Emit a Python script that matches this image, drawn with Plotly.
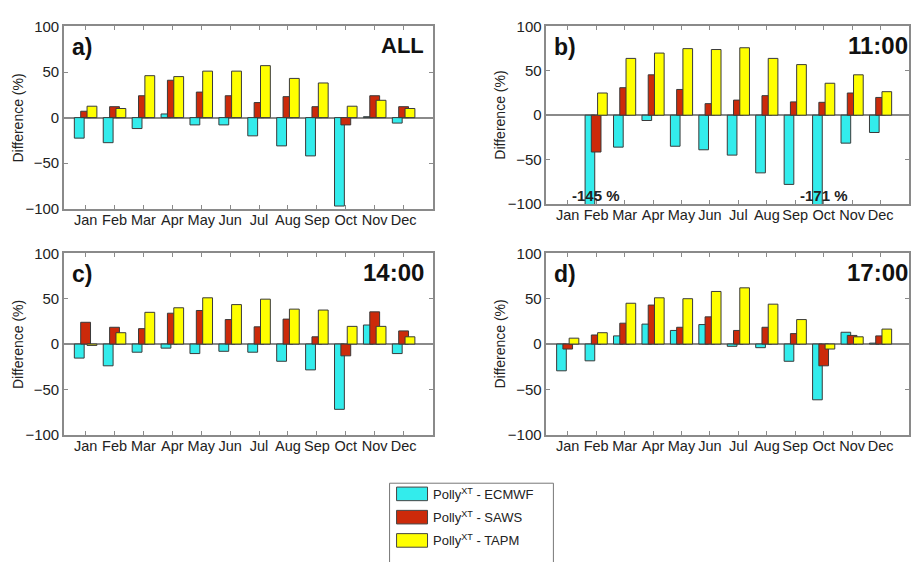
import plotly.graph_objects as go

months = ["Jan", "Feb", "Mar", "Apr", "May", "Jun", "Jul", "Aug", "Sep", "Oct", "Nov", "Dec"]
series_names = ["Polly<sup>XT</sup> - ECMWF", "Polly<sup>XT</sup> - SAWS", "Polly<sup>XT</sup> - TAPM"]
series_colors = ["#33ECEC", "#CC2A0A", "#FFFF00"]

# panel a) ALL
all_ecmwf = [-22.5, -27.5, -12, 4, -8, -8, -20, -31, -42, -97, 1, -6]
all_saws = [7, 12, 24, 41, 28, 24, 16.5, 23, 12, -8, 24, 12]
all_tapm = [12.5, 10, 46, 45, 51, 51, 57, 43, 38, 12.5, 19, 10]

# panel b) 11:00
h11_ecmwf = [None, -145, -36, -6, -35, -39, -45, -65, -78, -171, -31.5, -19.5]
h11_saws = [None, -41.5, 31, 45.5, 29, 13, 17, 22, 15, 14.5, 25, 20]
h11_tapm = [None, 25, 64, 70, 75, 74, 76, 64, 57, 36, 45.5, 26.5]

# panel c) 14:00
h14_ecmwf = [-15.5, -24, -9, -4.5, -10.5, -8, -9, -19, -28.5, -72, 21, -10.5]
h14_saws = [24, 18.5, 17, 34, 37, 27, 19, 27.5, 8, -13, 35.5, 14.5]
h14_tapm = [-1.5, 12.5, 35, 40, 51, 43.5, 49.5, 38.5, 37.5, 19.5, 19.5, 8]

# panel d) 17:00
h17_ecmwf = [-29.5, -18.5, 9, 22, 15, 21.5, -2.5, -4, -19, -61.5, 13, 1]
h17_saws = [-5.5, 10, 23, 43, 18.5, 30, 15, 18.5, 11.5, -24, 9.5, 9]
h17_tapm = [6.5, 12.5, 45, 51, 50, 58, 62, 44, 27, -5.5, 8, 16.5]

panel_letters = ["a)", "b)", "c)", "d)"]
panel_titles = ["ALL", "11:00", "14:00", "17:00"]
panels = [
    (all_ecmwf, all_saws, all_tapm),
    (h11_ecmwf, h11_saws, h11_tapm),
    (h14_ecmwf, h14_saws, h14_tapm),
    (h17_ecmwf, h17_saws, h17_tapm),
]
clip_notes = [("Feb", -145), ("Oct", -171)]

W, H = 911, 562
# pixel boxes (left, top, right, bottom)
boxes = [(64, 18, 433, 206), (547, 18, 910, 201), (64, 252, 433, 439), (547, 252, 910, 439)]

xpos = list(range(1, 13))
bar_w = 0.34
offsets = [-0.39, -0.17, 0.05]

fig = go.Figure()
font_family = "Liberation Sans, Arial, sans-serif"
axis_color = "#8a8a8a"

for p, (vals, box) in enumerate(zip(panels, boxes)):
    sfx = "" if p == 0 else str(p + 1)
    for s in range(3):
        fig.add_trace(go.Bar(
            x=xpos, y=vals[s], width=bar_w, offset=offsets[s],
            marker=dict(color=series_colors[s], line=dict(color="#3a3a3a", width=1)),
            name=series_names[s], showlegend=False,
            xaxis="x" + sfx, yaxis="y" + sfx,
        ))
    l, t, r, b = box
    xa = dict(
        domain=[l / W, r / W], anchor="y" + sfx, range=[0.25, 13.0],
        tickmode="array", tickvals=xpos, ticktext=months, tickangle=0,
        ticks="inside", ticklen=4, tickcolor=axis_color, mirror="ticks",
        showline=True, linecolor=axis_color, linewidth=1.5, showgrid=False,
        zeroline=False, tickfont=dict(family=font_family, size=14.5, color="#222"),
        ticklabelstandoff=-3,
    )
    ya = dict(
        domain=[1 - b / H, 1 - t / H], anchor="x" + sfx, range=[-100, 100],
        tickmode="array", tickvals=[-100, -50, 0, 50, 100],
        ticks="inside", ticklen=4, tickcolor=axis_color, mirror="ticks",
        showline=True, linecolor=axis_color, linewidth=1.5, showgrid=False,
        zeroline=True, zerolinecolor=axis_color, zerolinewidth=1.5,
        tickfont=dict(family=font_family, size=15, color="#222"),
        ticklabelstandoff=0,
    )
    fig.layout["xaxis" + sfx] = xa
    fig.layout["yaxis" + sfx] = ya
    # y title
    fig.add_annotation(
        x=(l - 46) / W, y=1 - (t + b) / 2 / H, xref="paper", yref="paper",
        text="Difference (%)", textangle=-90, showarrow=False,
        font=dict(family=font_family, size=14, color="#222"),
        xanchor="center", yanchor="middle",
    )
    # panel letter
    fig.add_annotation(
        x=(l + 6) / W, y=1 - (t + 21) / H, xref="paper", yref="paper",
        text="<b>%s</b>" % panel_letters[p], showarrow=False,
        font=dict(family=font_family, size=23, color="#111"),
        xanchor="left", yanchor="middle",
    )
    fig.add_annotation(
        x=(r - 7) / W if p % 2 == 0 else (r + 1) / W, y=1 - (t + 20) / H,
        xref="paper", yref="paper",
        text="<b>%s</b>" % panel_titles[p], showarrow=False,
        font=dict(family=font_family, size=22 if p == 0 else 24, color="#111"),
        xanchor="right", yanchor="middle",
    )

# clipped-value notes in panel b
for m, v in clip_notes:
    fig.add_annotation(
        x=months.index(m) + 1, y=-90, xref="x2", yref="y2",
        text="<b>%d %%</b>" % v, showarrow=False,
        font=dict(family=font_family, size=15, color="#222"),
        xanchor="center", yanchor="middle",
    )

# manual legend
lx0, ly0, lx1 = 390, 489, 554
fig.add_shape(type="rect", xref="paper", yref="paper",
              x0=lx0 / W, x1=lx1 / W, y0=-0.02, y1=1 - ly0 / H,
              line=dict(color="#777", width=1), fillcolor="white", layer="below")
for s in range(3):
    yc = 500 + 24 * s
    fig.add_shape(type="rect", xref="paper", yref="paper",
                  x0=397 / W, x1=428 / W, y0=1 - (yc + 7) / H, y1=1 - (yc - 7) / H,
                  line=dict(color="#444", width=1), fillcolor=series_colors[s])
    fig.add_annotation(
        x=431 / W, y=1 - yc / H, xref="paper", yref="paper",
        text=series_names[s], showarrow=False,
        font=dict(family=font_family, size=13, color="#222"),
        xanchor="left", yanchor="middle",
    )

fig.update_layout(
    width=W, height=H, margin=dict(l=0, r=0, t=0, b=0),
    paper_bgcolor="white", plot_bgcolor="white",
    barmode="overlay", showlegend=False,
)
fig.write_html("out.html")
